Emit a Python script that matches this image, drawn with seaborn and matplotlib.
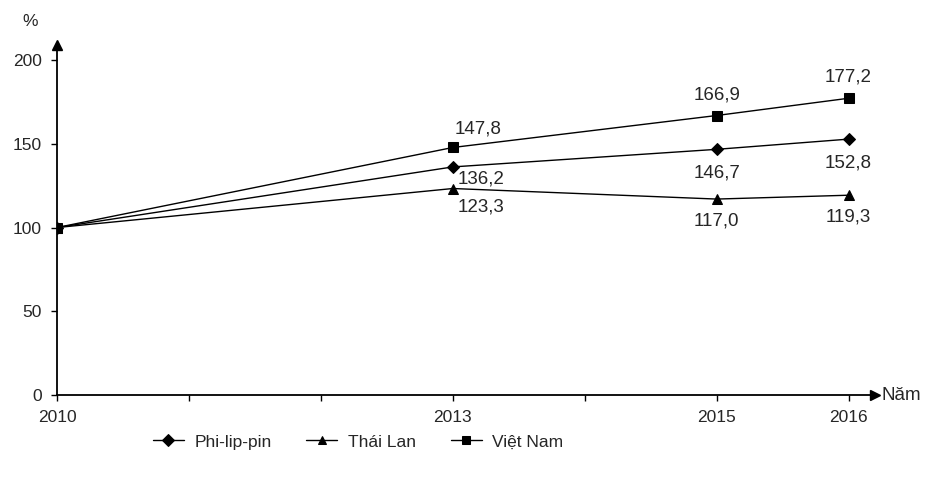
import numpy as np
import pandas as pd
import matplotlib
matplotlib.use("Agg")
import matplotlib.pyplot as plt
import seaborn as sns

years = [2010, 2013, 2015, 2016]
countries = ["Phi-lip-pin", "Thái Lan", "Việt Nam"]
philippines = [100.0, 136.2, 146.7, 152.8]
thailand = [100.0, 123.3, 117.0, 119.3]
vietnam = [100.0, 147.8, 166.9, 177.2]
y_ticks = [0, 50, 100, 150, 200]

df = pd.DataFrame({
    "year": years * 3,
    "value": philippines + thailand + vietnam,
    "country": [c for c in countries for _ in years],
})

sns.set_style("white")
plt.rcParams["font.family"] = ["Liberation Sans", "DejaVu Sans"]

fig = plt.figure(figsize=(9.45, 4.82), dpi=100)
ax = fig.add_axes([57 / 945, 87 / 482, 818 / 945, 350 / 482])

sns.lineplot(data=df, x="year", y="value", hue="country", style="country",
             hue_order=countries, style_order=countries,
             palette=["black"] * 3, dashes=False,
             markers={"Phi-lip-pin": "D", "Thái Lan": "^", "Việt Nam": "s"},
             markersize=6.5, markeredgecolor="black", linewidth=1.0,
             legend=True, ax=ax)

ax.set_xlim(2010, 2016.2)
ax.set_ylim(0, 209)
ax.set_xlabel("")
ax.set_ylabel("")
for s in ["top", "right"]:
    ax.spines[s].set_visible(False)
for s in ["left", "bottom"]:
    ax.spines[s].set_linewidth(1.3)
    ax.spines[s].set_color("black")

ax.set_xticks(range(2010, 2017))
ax.set_xticklabels([str(y) if y in years else "" for y in range(2010, 2017)], fontsize=12.5)
ax.set_yticks(y_ticks)
ax.set_yticklabels([str(v) for v in y_ticks], fontsize=12.5)
ax.tick_params(axis="both", direction="out", length=4, width=1, color="black",
               bottom=True, left=True, pad=7)

# axis arrows
ax.plot(1.0, 0, ">", color="black", markersize=7, transform=ax.get_yaxis_transform(),
        clip_on=False)
ax.plot(0, 1.0, "^", color="black", markersize=7, transform=ax.transAxes,
        clip_on=False)
ax.text(1.008, 0, "Năm", transform=ax.get_yaxis_transform(), ha="left", va="center",
        fontsize=13.5)
ax.text(-0.033, 1.066, "%", transform=ax.transAxes, ha="center", va="center",
        fontsize=12.5)

fmt = lambda v: f"{v:.1f}".replace(".", ",")
pt = 0.72  # px -> points

# data labels
for x, v in zip(years[1:], vietnam[1:]):
    dx, dy = (25, 18) if x == 2013 else (0, 21)
    ax.annotate(fmt(v), (x, v), xytext=(dx * pt, dy * pt), textcoords="offset points",
                ha="center", va="center", fontsize=13.5)
for x, v in zip(years[1:], philippines[1:]):
    if x == 2013:
        ax.annotate(fmt(v), (x, v), xytext=(5 * pt, -12 * pt), textcoords="offset points",
                    ha="left", va="center", fontsize=13.5)
    else:
        ax.annotate(fmt(v), (x, v), xytext=(0, -24 * pt), textcoords="offset points",
                    ha="center", va="center", fontsize=13.5)
for x, v in zip(years[1:], thailand[1:]):
    dx, dy = (28, -18) if x == 2013 else (0, -22)
    ax.annotate(fmt(v), (x, v), xytext=(dx * pt, dy * pt), textcoords="offset points",
                ha="center", va="center", fontsize=13.5)

handles, labels = ax.get_legend_handles_labels()
ax.get_legend().remove()
fig.legend(handles, labels, loc="center", bbox_to_anchor=(358 / 945, 1 - 442 / 482), ncol=3,
           frameon=False, fontsize=12.5, handlelength=1.8, columnspacing=2.0,
           handletextpad=0.6, markerscale=0.9)

fig.savefig("out.png", dpi=100)
